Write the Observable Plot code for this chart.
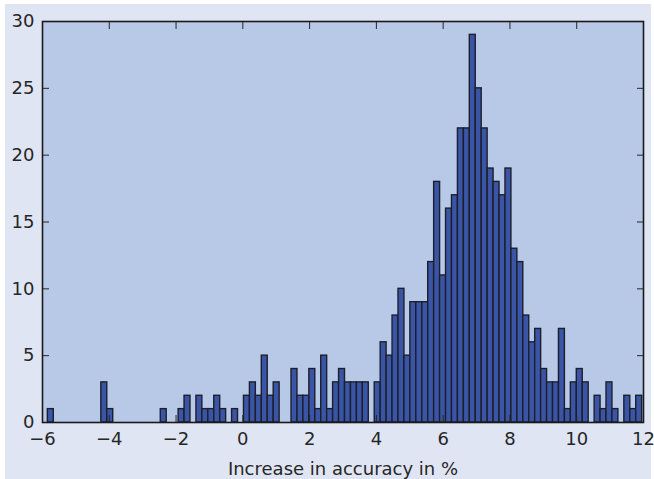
<!DOCTYPE html>
<html>
<head>
<meta charset="utf-8">
<script src="https://cdn.jsdelivr.net/npm/d3@7"></script>
<script src="https://cdn.jsdelivr.net/npm/@observablehq/plot@0.6"></script>
<style>
  html, body { margin: 0; padding: 0; background: #ffffff; }
  #chart { position: relative; width: 654px; height: 479px; }
  #bg { position: absolute; left: 5px; top: 4px; width: 646px; height: 475px; background: #e0e5f3; }
  #chart svg { position: absolute; left: 0; top: 0; display: block; }
</style>
</head>
<body>
<div id="chart"><div id="bg"></div></div>
<script>
// Histogram: 100 bins of "increase in accuracy in %"
const binStart = -5.84;
const binWidth = 0.178;
const counts = [
  1, 0, 0, 0, 0, 0, 0, 0, 0, 3,
  1, 0, 0, 0, 0, 0, 0, 0, 0, 1,
  0, 0, 1, 2, 0, 2, 1, 1, 2, 1,
  0, 1, 0, 2, 3, 2, 5, 2, 3, 0,
  0, 4, 2, 2, 4, 1, 5, 1, 3, 4,
  3, 3, 3, 3, 0, 3, 6, 5, 8, 10,
  5, 9, 9, 9, 12, 18, 11, 16, 17, 22,
  22, 29, 25, 22, 19, 18, 17, 19, 13, 12,
  8, 6, 7, 4, 3, 3, 7, 1, 3, 4,
  3, 0, 2, 1, 3, 1, 0, 2, 1, 2
];
const xTicks = [-6, -4, -2, 0, 2, 4, 6, 8, 10, 12];
const yTicks = [0, 5, 10, 15, 20, 25, 30];
const xLabel = "Increase in accuracy in %";

const bins = counts.map((c, i) => ({
  x1: binStart + i * binWidth,
  x2: binStart + (i + 1) * binWidth,
  count: c
})).filter(d => d.count > 0);

const ink = "#262626";
const font = "DejaVu Sans, sans-serif";

const chart = Plot.plot({
  width: 654,
  height: 479,
  marginLeft: 42,
  marginRight: 11,
  marginTop: 21,
  marginBottom: 57,
  style: { fontFamily: font, fontSize: "18px", color: ink, background: "transparent" },
  x: { domain: [-6, 12], ticks: xTicks },
  y: { domain: [0, 30], ticks: yTicks },
  marks: [
    Plot.frame({ fill: "#b8c8e7", stroke: null }),
    Plot.rectY(bins, { x1: "x1", x2: "x2", y: "count", fill: "#3a55a5", stroke: "#1c1f2b", strokeWidth: 1.4 }),
    // inward ticks on all four sides
    Plot.axisX(xTicks, { anchor: "bottom", tickSize: 7, dy: -7, text: null, label: null, stroke: ink, strokeWidth: 1 }),
    Plot.axisX(xTicks, { anchor: "top", tickSize: 7, dy: 7, text: null, label: null, stroke: ink, strokeWidth: 1 }),
    Plot.axisY(yTicks, { anchor: "left", tickSize: 7, dx: 7, text: null, label: null, stroke: ink, strokeWidth: 1 }),
    Plot.axisY(yTicks, { anchor: "right", tickSize: 7, dx: -7, text: null, label: null, stroke: ink, strokeWidth: 1 }),
    // labels
    Plot.axisX(xTicks, { anchor: "bottom", tickSize: 0, tickPadding: 10, label: xLabel, labelAnchor: "center", labelArrow: "none", labelOffset: 52, fill: ink, fontSize: 18 }),
    Plot.axisY(yTicks, { anchor: "left", tickSize: 0, tickPadding: 8, label: null, fill: ink, fontSize: 18 }),
    Plot.frame({ stroke: "#1a1a1a", strokeWidth: 1.6 })
  ]
});
document.getElementById("chart").appendChild(chart);
</script>
</body>
</html>
